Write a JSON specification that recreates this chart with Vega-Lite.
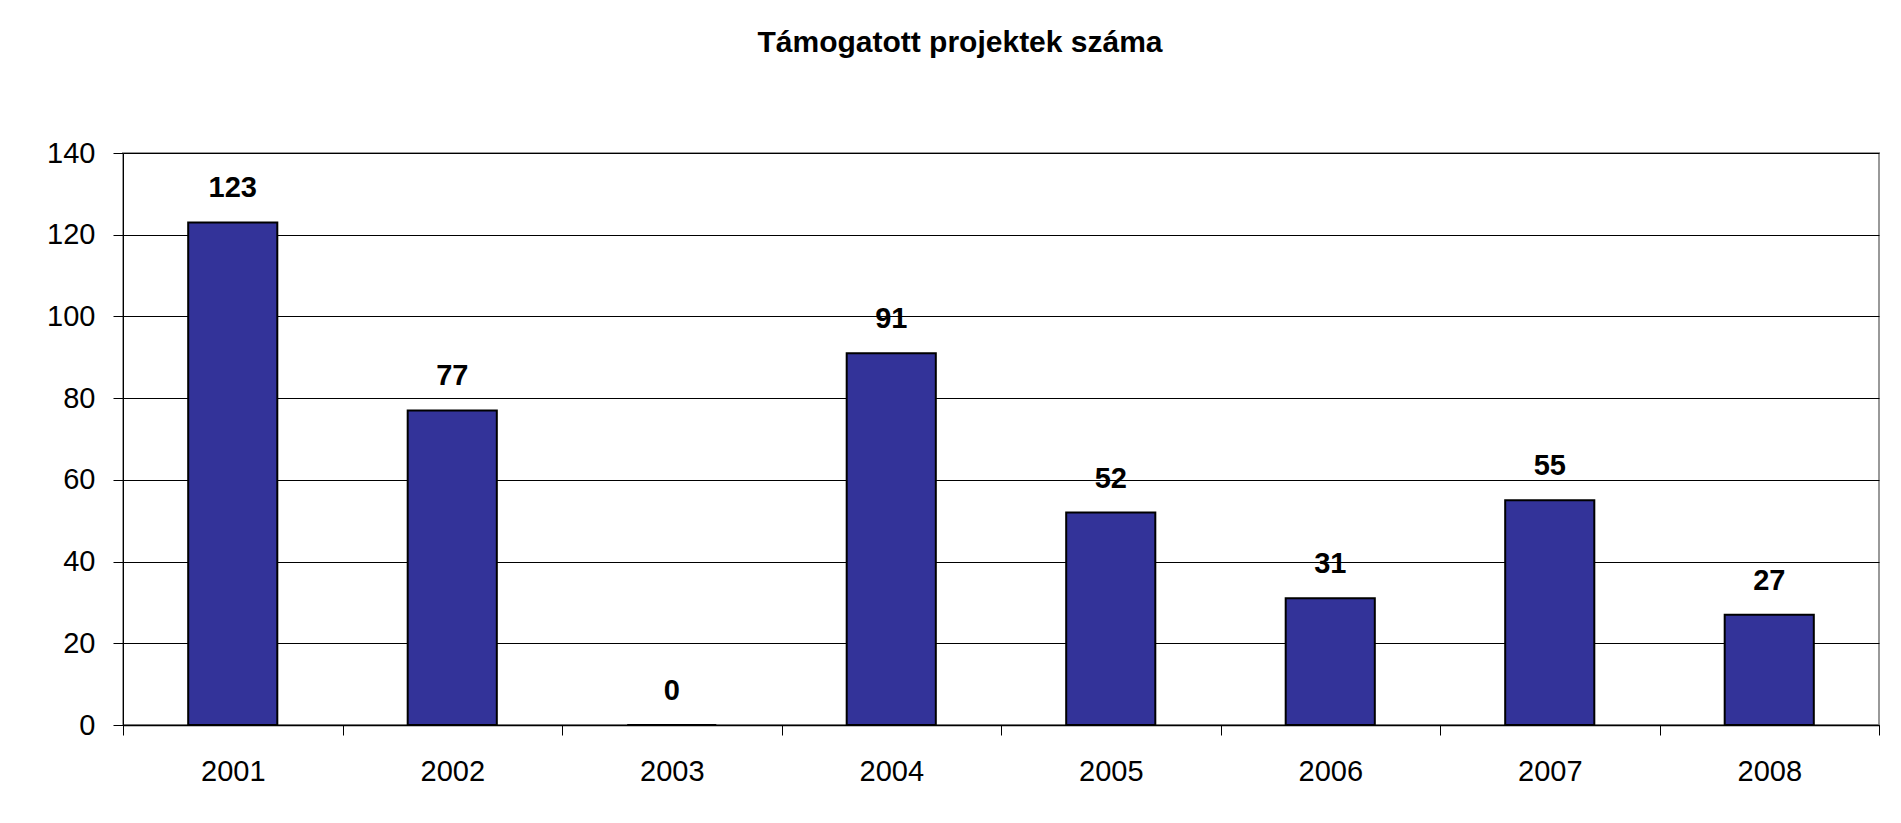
{
  "$schema": "https://vega.github.io/schema/vega-lite/v6.json",
  "autosize": {"type": "none"},
  "padding": {"left": 123, "top": 153, "right": 22, "bottom": 98},
  "width": 1756,
  "height": 572,
  "background": "white",
  "title": {
    "text": "Támogatott projektek száma",
    "font": "Liberation Sans",
    "fontSize": 30,
    "fontWeight": "bold",
    "color": "black",
    "anchor": "middle",
    "frame": "group",
    "baseline": "alphabetic",
    "dx": -41,
    "offset": 57
  },
  "data": {
    "values": [
      {"year": "2001", "count": 123},
      {"year": "2002", "count": 77},
      {"year": "2003", "count": 0},
      {"year": "2004", "count": 91},
      {"year": "2005", "count": 52},
      {"year": "2006", "count": 31},
      {"year": "2007", "count": 55},
      {"year": "2008", "count": 27}
    ]
  },
  "encoding": {
    "x": {
      "field": "year",
      "type": "nominal",
      "sort": null,
      "scale": {"paddingInner": 0, "paddingOuter": 0},
      "axis": {
        "title": null,
        "labelAngle": 0,
        "labelFont": "Liberation Sans",
        "labelFontSize": 29,
        "labelColor": "black",
        "labelPadding": 22,
        "tickBand": "extent",
        "tickSize": 10,
        "tickColor": "black",
        "tickWidth": 1,
        "domainColor": "black",
        "domainWidth": 1.5,
        "grid": false
      }
    },
    "y": {
      "field": "count",
      "type": "quantitative",
      "scale": {"domain": [0, 140], "nice": false},
      "axis": {
        "title": null,
        "values": [0, 20, 40, 60, 80, 100, 120, 140],
        "labelFont": "Liberation Sans",
        "labelFontSize": 29,
        "labelColor": "black",
        "labelPadding": 18,
        "tickSize": 10,
        "tickColor": "black",
        "tickWidth": 1,
        "domainColor": "black",
        "domainWidth": 1,
        "grid": true,
        "gridColor": "black",
        "gridWidth": 1,
        "gridOpacity": 1
      }
    }
  },
  "layer": [
    {
      "mark": {"type": "bar", "color": "#333399", "stroke": "black", "strokeWidth": 2, "width": {"band": 0.406}}
    },
    {
      "mark": {
        "type": "text",
        "font": "Liberation Sans",
        "fontSize": 29,
        "fontWeight": "bold",
        "color": "black",
        "baseline": "alphabetic",
        "dy": -25
      },
      "encoding": {"text": {"field": "count", "type": "quantitative"}}
    }
  ],
  "config": {
    "view": {"stroke": "#999999", "strokeWidth": 2}
  }
}
